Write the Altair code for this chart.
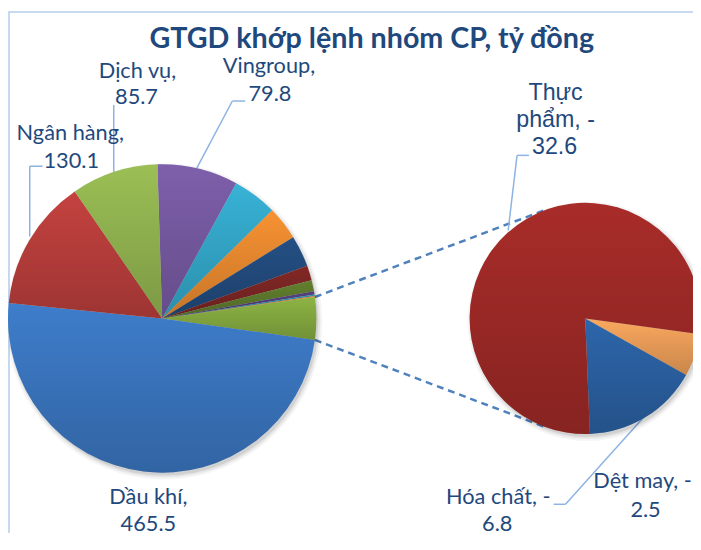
import math
import altair as alt
import pandas as pd

# ---------------- data ----------------
main_cats = ["Vingroup", "Nhóm 5", "Nhóm 6", "Nhóm 7", "Nhóm 8", "Nhóm 9",
             "Nhóm 10", "Nhóm 11", "Nhóm 12", "Khác", "Dầu khí", "Ngân hàng", "Dịch vụ"]
main_vals = [79.8, 44.0, 33.2, 31.1, 14.7, 11.0, 3.1, 1.6, 0.9, 41.9, 465.5, 130.1, 85.7]
main_colors = ["#7E5FAB", "#37B2D6", "#F79232", "#244F84", "#822826", "#62802F",
               "#54407F", "#2B90AB", "#DA7722", "#8DB444", "#3E7DCB", "#C4423F", "#9BBF55"]

sec_cats = ["Dệt may", "Hóa chất", "Thực phẩm"]
sec_vals = [2.5, 6.8, 32.6]
sec_colors = ["#FAA85E", "#2D66AB", "#A82C29"]

title_text = "GTGD khớp lệnh nhóm CP, tỷ đồng"

# labels (Calibri-like)
lab_text = ["Dịch vụ,", "85.7", "Vingroup,", "79.8", "Ngân hàng,", "130.1",
            "Dầu khí,", "465.5", "Hóa chất, -", "6.8", "Dệt may, -", "2.5"]
lab_x = [139, 138, 272, 273, 71, 72, 150, 150, 504, 503, 650, 653]
lab_y = [69, 95, 64, 92, 131, 160, 500, 527, 500, 527, 484, 513]
# labels (Arial-like)
lab2_text = ["Thực", "phẩm, -", "32.6"]
lab2_x = [562, 562, 561]
lab2_y = [91, 118, 146]

# leader lines (polylines, page coords)
leaders = [
    [(43, 165), (30, 165), (30, 236)],
    [(115, 103), (115, 173)],
    [(248, 99), (235, 99), (199, 167)],
    [(535, 154), (523, 154), (514, 230)],
    [(560, 507), (572, 507), (652, 418)],
]

# ---------------- layout ----------------
M = 8
W, H = 693, 528
main_cx, main_cy, main_r = 164 - M, 319 - M, 156
sec_cx, sec_cy, sec_r = 592 - M, 319 - M, 117
TEXT_COLOR = "#1F497D"
BORDER = "#C6D9F1"

main_total = sum(main_vals)
k = main_cats.index("Khác")
before = sum(main_vals[:k])
main_start = math.radians(90 - (before + main_vals[k] / 2) / main_total * 360)
sec_total = sum(sec_vals)
sec_start = math.radians(97.8)

df_main = pd.DataFrame({"cat": main_cats, "value": main_vals, "idx": range(len(main_cats))})
df_sec = pd.DataFrame({"cat": sec_cats, "value": sec_vals, "idx": range(len(sec_cats))})

xs = alt.Scale(domain=[0, W], nice=False, zero=False)
ys = alt.Scale(domain=[0, H], nice=False, zero=False, reverse=True)

grad = alt.LinearGradient(
    gradient="linear", x1=0, y1=0, x2=0, y2=1,
    stops=[alt.GradientStop(offset=0, color="rgba(0,0,0,0)"),
           alt.GradientStop(offset=1, color="rgba(0,0,0,0.2)")])


def pie(df, cats, colors, total, start, cx, cy, r):
    th = alt.Theta("value:Q", stack=True,
                   scale=alt.Scale(domain=[0, total], range=[start, start + 2 * math.pi], nice=False))
    base = alt.Chart(df).mark_arc(radius=r).encode(
        theta=th, order=alt.Order("idx:Q"),
        color=alt.Color("cat:N", scale=alt.Scale(domain=cats, range=colors), legend=None),
        x=alt.value(cx), y=alt.value(cy))
    over = alt.Chart(df).mark_arc(radius=r, color=grad).encode(
        theta=th, order=alt.Order("idx:Q"), x=alt.value(cx), y=alt.value(cy))
    return base, over


def shadow(cx, cy, r):
    d = pd.DataFrame({"v": [1]})
    layers = []
    for dr, op in [(4, 0.04), (2, 0.06), (0, 0.09)]:
        layers.append(alt.Chart(d).mark_arc(radius=r + dr, color="#000000", opacity=op).encode(
            theta=alt.value(0), theta2=alt.value(2 * math.pi),
            x=alt.value(cx + 2), y=alt.value(cy + 3)))
    return layers


# chart-area border (top and left edges visible)
border = pd.DataFrame({"x": [0, 1], "y": [1, 0], "x2": [W, 1], "y2": [1, H]})
border_layer = alt.Chart(border).mark_rule(color=BORDER, strokeWidth=2).encode(
    x=alt.X("x:Q", scale=xs, axis=None), y=alt.Y("y:Q", scale=ys, axis=None),
    x2="x2:Q", y2="y2:Q")

# dashed connectors
a1 = main_start + before / main_total * 2 * math.pi
a2 = main_start + (before + main_vals[k]) / main_total * 2 * math.pi
b1 = math.radians(339)
b2 = math.radians(201)
conn = pd.DataFrame({
    "x": [main_cx + main_r * math.sin(a1), main_cx + main_r * math.sin(a2)],
    "y": [main_cy - main_r * math.cos(a1), main_cy - main_r * math.cos(a2)],
    "x2": [sec_cx + sec_r * math.sin(b1), sec_cx + sec_r * math.sin(b2)],
    "y2": [sec_cy - sec_r * math.cos(b1), sec_cy - sec_r * math.cos(b2)],
})
conn_layer = alt.Chart(conn).mark_rule(color="#4F81BD", strokeWidth=2.5, strokeDash=[7, 5]).encode(
    x=alt.X("x:Q", scale=xs, axis=None), y=alt.Y("y:Q", scale=ys, axis=None),
    x2="x2:Q", y2="y2:Q")

seg = []
for poly in leaders:
    for (p, q) in zip(poly[:-1], poly[1:]):
        seg.append({"x": p[0] - M, "y": p[1] - M, "x2": q[0] - M, "y2": q[1] - M})
lead_layer = alt.Chart(pd.DataFrame(seg)).mark_rule(color="#8DB3E2", strokeWidth=1.5).encode(
    x=alt.X("x:Q", scale=xs, axis=None), y=alt.Y("y:Q", scale=ys, axis=None),
    x2="x2:Q", y2="y2:Q")

df_lab = pd.DataFrame({"t": lab_text, "x": [v - M for v in lab_x], "y": [v - M for v in lab_y]})
lab_layer = alt.Chart(df_lab).mark_text(font="Lato", fontSize=22, color=TEXT_COLOR,
                                        align="center", baseline="middle").encode(
    x=alt.X("x:Q", scale=xs, axis=None), y=alt.Y("y:Q", scale=ys, axis=None), text="t:N")

df_lab2 = pd.DataFrame({"t": lab2_text, "x": [v - M for v in lab2_x], "y": [v - M for v in lab2_y]})
lab2_layer = alt.Chart(df_lab2).mark_text(font="Liberation Sans", fontSize=23.5, color=TEXT_COLOR,
                                          align="center", baseline="middle").encode(
    x=alt.X("x:Q", scale=xs, axis=None), y=alt.Y("y:Q", scale=ys, axis=None), text="t:N")

df_title = pd.DataFrame({"t": [title_text], "x": [376 - M], "y": [36 - M]})
title_layer = alt.Chart(df_title).mark_text(font="Lato", fontSize=29, fontWeight="bold",
                                            color=TEXT_COLOR, align="center", baseline="middle").encode(
    x=alt.X("x:Q", scale=xs, axis=None), y=alt.Y("y:Q", scale=ys, axis=None), text="t:N")

mb, mo = pie(df_main, main_cats, main_colors, main_total, main_start, main_cx, main_cy, main_r)
sb, so = pie(df_sec, sec_cats, sec_colors, sec_total, sec_start, sec_cx, sec_cy, sec_r)

layers = [border_layer, conn_layer, lead_layer] + shadow(main_cx, main_cy, main_r) + \
         shadow(sec_cx, sec_cy, sec_r) + [mb, mo, sb, so, lab_layer, lab2_layer, title_layer]

chart = alt.layer(*layers).resolve_scale(theta="independent", color="independent").properties(
    width=W, height=H, padding=0, autosize="none"
).configure_view(stroke=None)

chart.save("out.html", embed_options={"renderer": "svg", "actions": False})
